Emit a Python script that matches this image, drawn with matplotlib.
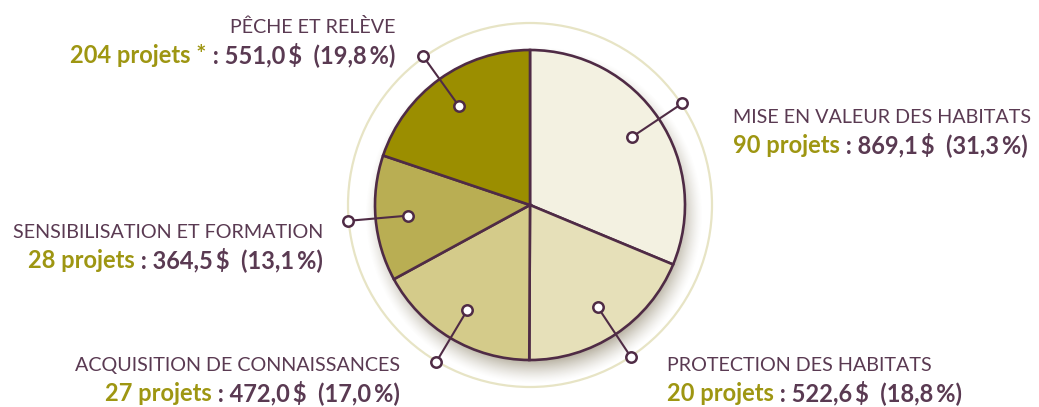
import numpy as np
import matplotlib
matplotlib.use("Agg")
import matplotlib.pyplot as plt
from matplotlib.patches import Circle

# data
categories = ["MISE EN VALEUR DES HABITATS", "PROTECTION DES HABITATS",
              "ACQUISITION DE CONNAISSANCES", "SENSIBILISATION ET FORMATION",
              "PÊCHE ET RELÈVE"]
projets = ["90 projets", "20 projets", "27 projets", "28 projets", "204 projets *"]
montants = [869.1, 522.6, 472.0, 364.5, 551.0]
pourcents = [31.3, 18.8, 17.0, 13.1, 19.8]
couleurs = ["#f3f1e1", "#e6e0b9", "#d4cb8a", "#b9ae53", "#9b8e00"]

plum = "#4f2b45"
plum_txt = "#5a3a52"
green_txt = "#9e9612"

plt.rcParams["font.family"] = ["Lato", "DejaVu Sans"]

W, H = 1039, 407
fig = plt.figure(figsize=(W / 100, H / 100), dpi=100)
ax = fig.add_axes([0, 0, 1, 1])

cx, cy, R = 530, H - 205, 155

wedges, _ = ax.pie(montants, colors=couleurs, startangle=90, counterclock=False,
                   radius=R, center=(cx, cy),
                   wedgeprops=dict(edgecolor=plum, linewidth=1.9, zorder=3))

# outer ring
ax.add_patch(Circle((cx, cy), 182, fill=False, ec="#e7e4c5", lw=1.6, zorder=1))

# soft shadow under the pie
yy, xx = np.mgrid[0:H, 0:W]
d = np.hypot(xx + 0.5 - (cx + 4), (H - yy - 0.5) - (cy - 10))
a = np.clip((R + 14 - d) / 28, 0, 1) ** 1.4 * 0.6
img = np.zeros((H, W, 4))
img[..., 0] = 0.42
img[..., 1] = 0.37
img[..., 2] = 0.24
img[..., 3] = a
ax.imshow(img, extent=(0, W, 0, H), origin="upper", zorder=2, interpolation="bilinear")
ax.set_xlim(0, W)
ax.set_ylim(0, H)
ax.set_aspect("auto")
ax.axis("off")

# leader lines with open dots
for w in wedges:
    ang = np.deg2rad((w.theta1 + w.theta2) / 2)
    xs = [cx + 0.79 * R * np.cos(ang), cx + 1.18 * R * np.cos(ang)]
    ys = [cy + 0.79 * R * np.sin(ang), cy + 1.18 * R * np.sin(ang)]
    ax.plot(xs, ys, color=plum, lw=1.5, zorder=4)
    ax.plot(xs, ys, "o", ms=7.5, mfc="white", mec=plum, mew=1.8, zorder=5)

# labels: (x, title baseline in image px, alignment)
places = [(733, 123, "left"), (667, 371, "left"), (400, 371, "right"),
          (323, 238, "right"), (395, 33, "right")]

fig.canvas.draw()
rend = fig.canvas.get_renderer()

for cat, pj, m, p, (x, yb, ha) in zip(categories, projets, montants, pourcents, places):
    ax.text(x, H - yb, cat, ha=ha, va="baseline", fontsize=14.2,
            color=plum_txt, zorder=6)
    reste = " : " + f"{m:.1f}".replace(".", ",") + "\u2009$  (" + \
        f"{p:.1f}".replace(".", ",") + "\u2009%)"
    y2 = H - (yb + 30)
    if ha == "right":
        t = ax.text(x, y2, reste, ha="right", va="baseline", fontsize=17,
                    color=plum_txt, fontweight="bold", zorder=6)
        bb = t.get_window_extent(rend)
        ax.text(bb.x0, y2, pj, ha="right", va="baseline", fontsize=17,
                color=green_txt, fontweight="bold", zorder=6)
    else:
        t = ax.text(x, y2, pj, ha="left", va="baseline", fontsize=17,
                    color=green_txt, fontweight="bold", zorder=6)
        bb = t.get_window_extent(rend)
        ax.text(bb.x1, y2, reste, ha="left", va="baseline", fontsize=17,
                color=plum_txt, fontweight="bold", zorder=6)

fig.savefig("out.png", dpi=100)
